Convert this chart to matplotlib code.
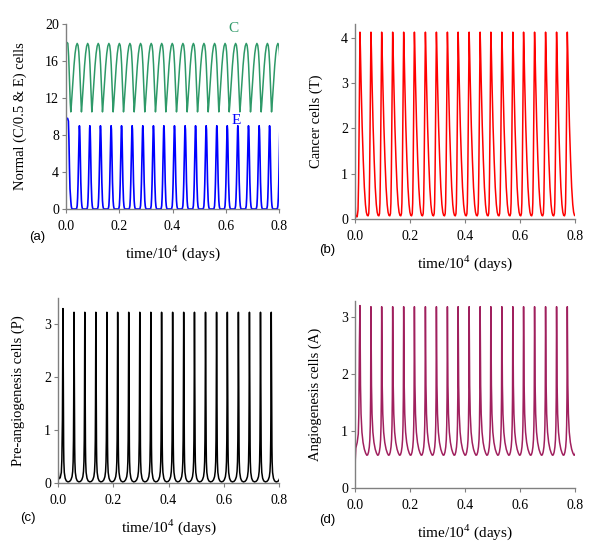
import matplotlib
matplotlib.use('Agg')
import matplotlib.pyplot as plt

plt.rcParams['font.family'] = ['Liberation Serif', 'DejaVu Serif']
plt.rcParams['mathtext.fontset'] = 'custom'
plt.rcParams['mathtext.rm'] = 'Liberation Serif'

# times of the tumour peaks (x 10^4 days)
PEAK_TIMES = [0.018, 0.058, 0.097, 0.137, 0.177, 0.216, 0.256, 0.296,
              0.336, 0.375, 0.415, 0.455, 0.494, 0.534, 0.574, 0.613,
              0.653, 0.693, 0.733, 0.772]
PERIOD = 0.0397

# one cycle, phase 0 = tumour peak, phase 1 = next tumour peak
C_PHASE = [0.0, 0.05, 0.12, 0.2, 0.3, 0.4, 0.5, 0.6, 0.68, 0.75, 0.82,
           0.88, 0.94, 0.98]
C_CYCLE = [10.5, 11.2, 12.4, 13.8, 15.5, 16.8, 17.6, 17.9, 17.7, 17.0,
           15.6, 13.9, 12.0, 10.9]
C_START_T = [0.0, 0.004, 0.007, 0.010, 0.013, 0.016, 0.018]
C_START = [17.9, 18.0, 17.9, 16.5, 14.0, 11.5, 10.5]

E_PHASE = [0.0, 0.04, 0.08, 0.12, 0.16, 0.5, 0.55, 0.6, 0.64, 0.68, 0.72,
           0.76, 0.79, 0.81, 0.84, 0.87, 0.9, 0.94, 0.97]
E_CYCLE = [0.9, 0.35, 0.1, 0.02, 0.0, 0.0, 0.05, 0.35, 1.2, 2.7, 4.9,
           7.4, 8.7, 9.0, 8.6, 7.2, 5.2, 2.9, 1.7]
E_START_T = [0.0, 0.002, 0.006, 0.009, 0.011, 0.013, 0.015, 0.017, 0.018]
E_START = [9.7, 9.8, 9.8, 9.5, 7.5, 4.5, 2.2, 1.2, 0.9]

T_PHASE = [0.0, 0.04, 0.1, 0.2, 0.3, 0.4, 0.5, 0.58, 0.66, 0.74, 0.8,
           0.84, 0.88, 0.92, 0.96]
T_CYCLE = [4.12, 3.75, 3.05, 2.05, 1.3, 0.7, 0.32, 0.15, 0.08, 0.07, 0.12,
           0.35, 1.0, 2.1, 3.3]
T_START_T = [0.0, 0.002, 0.004, 0.008, 0.011, 0.013, 0.015, 0.017, 0.018]
T_START = [0.42, 0.1, 0.05, 0.05, 0.2, 0.8, 2.0, 3.5, 4.12]

P_PHASE = [0.0, 0.02, 0.04, 0.06, 0.08, 0.12, 0.2, 0.3, 0.45, 0.6, 0.72,
           0.82, 0.88, 0.92, 0.95, 0.97, 0.99]
P_CYCLE = [3.23, 2.4, 1.4, 0.7, 0.4, 0.2, 0.09, 0.04, 0.02, 0.03, 0.06,
           0.12, 0.22, 0.4, 0.8, 1.5, 2.6]
P_START_T = [0.0, 0.002, 0.004, 0.008, 0.012, 0.014, 0.016, 0.017, 0.018]
P_START = [0.3, 0.12, 0.08, 0.1, 0.2, 0.45, 1.2, 2.3, 3.3]

A_PHASE = [0.0, 0.02, 0.05, 0.1, 0.18, 0.28, 0.4, 0.52, 0.62, 0.7, 0.78,
           0.85, 0.9, 0.94, 0.97, 0.99]
A_CYCLE = [3.18, 2.5, 1.8, 1.3, 0.98, 0.8, 0.68, 0.61, 0.575, 0.58, 0.63,
           0.72, 0.85, 1.1, 1.6, 2.5]
A_START_T = [0.0, 0.001, 0.003, 0.008, 0.012, 0.014, 0.016, 0.018]
A_START = [0.0, 0.5, 0.7, 0.8, 0.95, 1.3, 2.5, 3.2]

X_TICKS = [0.0, 0.2, 0.4, 0.6, 0.8]
GRAY = '#808080'


def build_series(start_t, start_v, phase, cycle):
    t = list(start_t)
    v = list(start_v)
    for i, peak in enumerate(PEAK_TIMES):
        if i + 1 < len(PEAK_TIMES):
            span = PEAK_TIMES[i + 1] - peak
        else:
            span = PERIOD
        for p, val in zip(phase, cycle):
            time = peak + p * span
            if time > t[-1]:
                t.append(time)
                v.append(val)
    return t, v


def add_axes(fig, box_px, ylim, yticks, ylabel, ylabel_x):
    left, top, right, bottom = box_px
    w, h = 600.0, 553.0
    ax = fig.add_axes([left / w, 1 - bottom / h, (right - left) / w,
                       (bottom - top) / h])
    ax.set_xlim(0, 0.8)
    ax.set_ylim(*ylim)
    ax.set_xticks(X_TICKS)
    ax.set_xticklabels(['%.1f' % x for x in X_TICKS])
    ax.set_yticks(yticks)
    for side in ['top', 'right']:
        ax.spines[side].set_visible(False)
    for side in ['left', 'bottom']:
        ax.spines[side].set_color(GRAY)
        ax.spines[side].set_linewidth(1.0)
    ax.tick_params(axis='both', direction='out', length=3, width=0.8,
                   color=GRAY, labelsize=10)
    ax.tick_params(axis='y', pad=2)
    ax.tick_params(axis='x', pad=5)
    ax.set_ylabel(ylabel, fontsize=10.5)
    ax.yaxis.set_label_coords(ylabel_x, 0.5)
    ax.set_xlabel('time/10$^{\\mathrm{4}}$ (days)', fontsize=11)
    ax.xaxis.set_label_coords(0.5, -34.0 / (bottom - top))
    return ax


def main():
    fig = plt.figure(figsize=(6.0, 5.53), dpi=100)

    ax_a = add_axes(fig, (66, 24, 279, 209), (0, 20), [0, 4, 8, 12, 16, 20],
                    'Normal (C/0.5 & E) cells', -0.183)
    t, v = build_series(C_START_T, C_START, C_PHASE, C_CYCLE)
    ax_a.plot(t, v, color='#2e9968', lw=1.1)
    t, v = build_series(E_START_T, E_START, E_PHASE, E_CYCLE)
    ax_a.plot(t, v, color='#0000ff', lw=1.2)
    ax_a.text(0.627, 19.5, 'C', color='#2e9968', fontsize=11,
              ha='center', va='center')
    ax_a.text(0.638, 9.6, 'E', color='#0000ff', fontsize=11,
              ha='center', va='center')

    ax_b = add_axes(fig, (355, 24, 575, 219), (0, 4.3), [0, 1, 2, 3, 4],
                    'Cancer cells (T)', -0.145)
    t, v = build_series(T_START_T, T_START, T_PHASE, T_CYCLE)
    ax_b.plot(t, v, color='#ff0000', lw=1.1)

    ax_c = add_axes(fig, (58, 298, 279, 483), (0, 3.5), [0, 1, 2, 3],
                    'Pre-angiogenesis cells (P)', -0.149)
    t, v = build_series(P_START_T, P_START, P_PHASE, P_CYCLE)
    ax_c.plot(t, v, color='#000000', lw=1.1)

    ax_d = add_axes(fig, (355, 301, 575, 488), (0, 3.28), [0, 1, 2, 3],
                    'Angiogenesis cells (A)', -0.15)
    t, v = build_series(A_START_T, A_START, A_PHASE, A_CYCLE)
    ax_d.plot(t, v, color='#a0205e', lw=1.1)

    for label, x, y in [('(a)', 37, 237), ('(b)', 327, 250),
                        ('(c)', 28, 518), ('(d)', 327, 520)]:
        fig.text(x / 600.0, 1 - y / 553.0, label, family='Liberation Sans',
                 fontsize=9.5, ha='center', va='center')

    fig.savefig('out.png', dpi=100)


if __name__ == '__main__':
    main()
